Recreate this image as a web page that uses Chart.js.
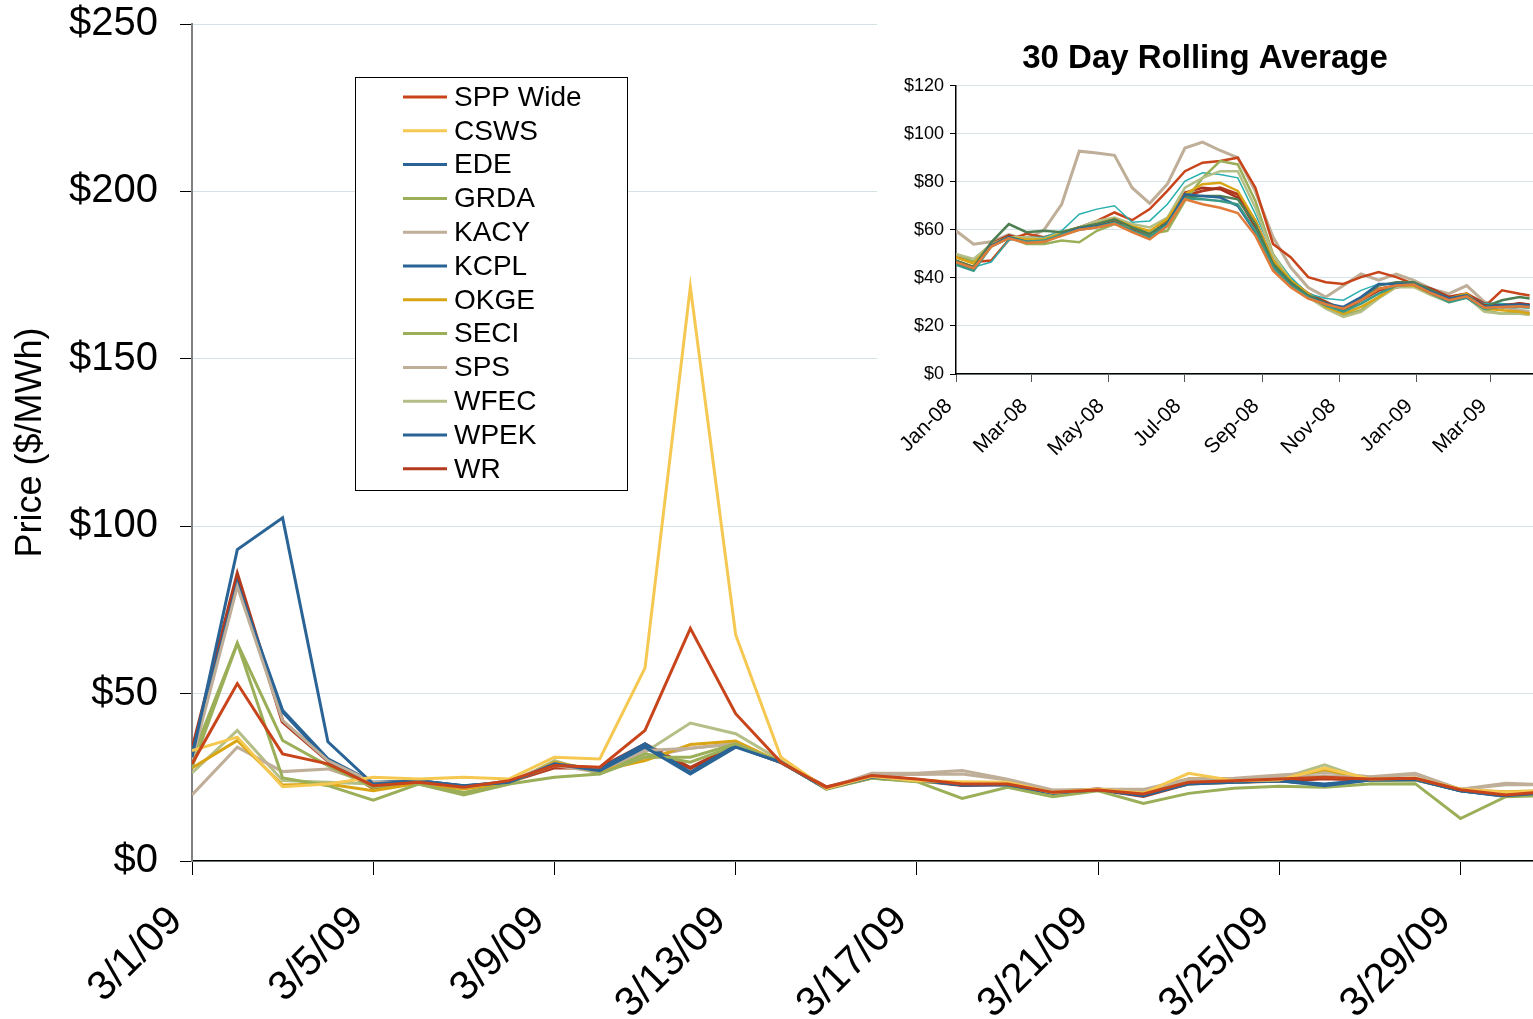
<!DOCTYPE html>
<html>
    <head>
        <title>SPP Daily Prices - March 2009</title>
        <script src="https://cdn.jsdelivr.net/npm/chart.js"></script>
        <style>
         body {
            margin: 0;
            background: white;
            overflow: hidden;
         }
         #wrap {
            position: relative;
            width: 1533px;
            height: 1019px;
         }
         #mainChart {
            position: absolute;
            left: 0;
            top: 0;
         }
         #rollChart {
            position: absolute;
            left: 877px;
            top: 0;
            background: white;
         }
        </style>
    </head>
    <body>
        <div id="wrap">
            <canvas id="mainChart" width="1533" height="1019"></canvas>
            <canvas id="rollChart" width="656" height="470"></canvas>
        </div>
        <script>
        // daily prices, March 2009 ($/MWh)
        const days = [
            "3/1/09", "3/2/09", "3/3/09", "3/4/09", "3/5/09", "3/6/09", "3/7/09", "3/8/09",
            "3/9/09", "3/10/09", "3/11/09", "3/12/09", "3/13/09", "3/14/09", "3/15/09", "3/16/09",
            "3/17/09", "3/18/09", "3/19/09", "3/20/09", "3/21/09", "3/22/09", "3/23/09", "3/24/09",
            "3/25/09", "3/26/09", "3/27/09", "3/28/09", "3/29/09", "3/30/09", "3/31/09"
        ];
        const xTickDays = [0, 4, 8, 12, 16, 20, 24, 28];
        const priceTicks = [0, 50, 100, 150, 200, 250];

        const sppWide = [29, 53, 32, 29, 22.5, 23.5, 22, 24, 28.5, 28, 39, 69.5, 44, 29.5, 22, 25.5, 24.5, 23, 23, 20.5, 21.2, 20, 23.5, 24, 24.5, 25, 24.5, 24.7, 21.3, 19.7, 20.8];
        const csws    = [33, 37, 22.2, 23, 25, 24.5, 25, 24.5, 31, 30.5, 57.7, 171.5, 67.6, 31, 21.6, 25.2, 24, 23.7, 23.5, 20.5, 21.4, 20.3, 26.2, 24, 24.2, 27.8, 24.5, 24.7, 21.5, 20.5, 21];
        const ede     = [31, 93, 102.5, 35.6, 23, 24, 22.5, 23.5, 29, 27, 34, 26, 34, 29.5, 21.6, 25, 24.2, 22.7, 22.8, 20.3, 21.3, 19.8, 23, 23.5, 24, 22.5, 24.2, 24.3, 21, 19.5, 20.5];
        const grda    = [28, 65, 24.8, 22.5, 18.2, 23, 19.7, 23, 25, 26, 31, 31, 35, 29.5, 21.6, 24.7, 23.7, 18.7, 22, 19.2, 21, 17.2, 20.2, 21.7, 22.3, 22, 23, 23.1, 12.7, 19.2, 19.5];
        const kacy    = [30, 82, 42, 30, 23.5, 23.5, 22, 24, 29, 27, 33, 33.7, 35, 29.5, 21.6, 25.8, 25.8, 26, 24.2, 20.8, 21.4, 21, 24.4, 24.5, 25.3, 25.5, 25, 25.8, 21.4, 22.8, 22.7];
        const kcpl    = [32, 83, 45, 30.5, 23.5, 24, 22.5, 23.5, 29, 27.5, 35, 26.5, 34.5, 29.5, 21.6, 25.2, 24.3, 22.8, 23, 20.3, 21.3, 19.6, 23.3, 23.6, 24, 23, 24.2, 24.4, 21, 19.4, 20.5];
        const okge    = [27.8, 36, 22.7, 23, 21, 23.2, 21.5, 23.5, 29.5, 27, 30, 34.8, 35.8, 29.5, 21.6, 25.3, 24.3, 23.3, 23, 20.5, 21.3, 20.2, 24.5, 24.3, 24.5, 27.3, 24.5, 24.7, 21.3, 20.7, 21];
        const seci    = [30.8, 65, 36, 28.5, 22, 23.3, 20.5, 23.2, 29.5, 26.5, 32, 29.5, 34.5, 29.5, 21.6, 24.8, 23.8, 23, 22.8, 20, 21.2, 20.5, 23, 23.5, 24, 27.5, 24, 24.2, 21, 19.5, 20];
        const sps     = [19.7, 34, 26.7, 27.5, 23, 23.5, 22.3, 23.8, 28.5, 26.5, 31, 33.7, 35, 29.5, 21.6, 26.2, 26.2, 27, 24.4, 21.2, 21.4, 21.4, 24.6, 24.7, 25.7, 26.5, 25.2, 26.2, 21.4, 23.2, 22.7];
        const wfec    = [26.3, 39, 24, 23.5, 23, 23, 20, 23, 30, 26, 32.5, 41.2, 38, 30, 21.4, 24.8, 24, 23.2, 22.8, 20.2, 21.2, 20.6, 23.2, 24, 24.5, 28.7, 24, 24.3, 21.2, 19.5, 20];
        const wpek    = [31.5, 82.5, 44.5, 30, 23.3, 24, 22.3, 23.6, 29, 27.3, 34.5, 26.2, 34.3, 29.5, 21.6, 25.1, 24.2, 22.7, 22.9, 20.2, 21.3, 19.5, 23.2, 23.6, 24, 22.8, 24.2, 24.4, 21, 19.3, 20.4];
        const wr      = [33, 85.5, 41.6, 30, 21.8, 23.5, 22, 23.7, 28, 27.8, 34.8, 27.8, 34.5, 29.5, 22, 25.4, 24.2, 22.7, 23, 20.2, 21.4, 19.4, 23.2, 23.7, 24, 24.7, 24.3, 24.5, 21.2, 19.6, 20.8];

        const seriesNames = ["SPP Wide", "CSWS", "EDE", "GRDA", "KACY", "KCPL", "OKGE", "SECI", "SPS", "WFEC", "WPEK", "WR"];
        const seriesValues = [sppWide, csws, ede, grda, kacy, kcpl, okge, seci, sps, wfec, wpek, wr];
        const seriesColors = [
            "#c8441a", "#f5c851", "#2a6496", "#9bae58",
            "#bfae98", "#2a6496", "#d9a514", "#9bae58",
            "#bfae98", "#b3bf86", "#2a6496", "#b23a1e"
        ];

        // 30 day rolling average, sampled every two weeks from 1/1/08
        const rollDays = [0, 14, 28, 42, 56, 70, 84, 98, 112, 126, 140, 154, 168, 182, 196, 210, 224, 238, 252, 266, 280, 294, 308, 322, 336, 350, 364, 378, 392, 406, 420, 434, 448, 456];
        const monthTicks = [0, 60, 121, 182, 244, 305, 366, 425];
        const monthLabels = ["Jan-08", "Mar-08", "May-08", "Jul-08", "Sep-08", "Nov-08", "Jan-09", "Mar-09"];
        const rollTicks = [0, 20, 40, 60, 80, 100, 120];

        const rollOrange    = [46.5, 44, 53, 56.5, 54.5, 55, 57.5, 60, 61, 62.5, 59, 56, 61.5, 72.7, 70.6, 69.2, 67, 57.6, 43, 36.1, 31.4, 29, 27.2, 30.7, 35.4, 36.8, 37.2, 33.6, 30.7, 32.3, 27.6, 27.9, 28.2, 27.9];
        const rollTealGreen = [45.5, 43, 53, 56.5, 55, 55.5, 58, 60, 61, 63, 59.5, 57, 62, 73, 72.7, 72, 70.6, 59.6, 44.4, 36.8, 32, 28.6, 25.9, 29.3, 33.4, 36.8, 37.2, 33.4, 29.9, 31.7, 27.2, 27.9, 27.9, 27.6];
        const rollBlue      = [46, 43.5, 53.5, 57, 55, 55, 58, 60.5, 61.5, 63, 59.5, 56.5, 62.5, 74.8, 74.1, 73.4, 70, 59, 44.4, 36.8, 32, 29.3, 27.9, 32, 37.5, 37.5, 37.5, 34.1, 31.4, 32.7, 27.9, 28.6, 28.9, 28.6];
        const rollDkGreen   = [47.2, 44.4, 54.8, 62.4, 59, 59.6, 59, 61, 62.4, 64.4, 61, 58.3, 63, 73.4, 74.1, 74.1, 72.7, 62.4, 45.9, 38.2, 32.7, 29.6, 27.2, 30.7, 36.8, 38.2, 38.2, 34.8, 31.4, 32.7, 27.9, 30.7, 32, 31.4];
        const rollGold      = [48.5, 46, 53.8, 57, 56, 56, 58.5, 60.5, 62.5, 64.5, 61.5, 59.5, 64.5, 74.8, 79, 79.6, 76.2, 63.7, 47.2, 39, 33.4, 27.9, 25.1, 27.9, 32, 36.8, 36.8, 33.4, 31.4, 33.4, 27.2, 26.5, 25.9, 25.1];
        const rollLtOlive   = [50, 47.9, 54.1, 56.9, 56.9, 56.2, 59, 61, 63.7, 65.1, 62.4, 61, 65.1, 77.5, 81.6, 84.4, 84.4, 69.2, 49.3, 39, 32, 27.2, 23.8, 25.9, 31.4, 36.1, 36.1, 32.7, 29.9, 32, 25.9, 25.1, 25.1, 24.5];
        const rollOlive     = [50, 46.6, 53.4, 56.9, 54.1, 54.1, 55.5, 54.8, 59.6, 62.4, 61, 58.3, 59.6, 72, 81.6, 88.6, 87.2, 72, 50, 39, 32, 27.9, 24.5, 26.5, 32, 36.8, 36.8, 33.4, 30.7, 32, 26.5, 25.1, 25.9, 25.1];
        const rollDkRed     = [47, 44.5, 54, 57.5, 55.5, 55.8, 58.5, 61, 62, 64, 60.5, 57.8, 63.5, 75.5, 77.5, 76.9, 73.4, 61, 45.9, 37.5, 32.7, 29.6, 26.5, 30.7, 35.4, 36.8, 37.5, 34.8, 31.7, 33.1, 28.6, 28.6, 29.3, 28.9];
        const rollTeal      = [47.2, 44.4, 46.6, 55.8, 56.9, 56.9, 59.6, 66.5, 68.6, 70, 63.1, 63.7, 70.6, 80.3, 83.7, 83, 81.6, 66.5, 50, 40.3, 33.4, 31.4, 30.7, 34.8, 37.5, 37.5, 37.5, 33.4, 30.7, 32.7, 29.3, 29.3, 28.6, 27.9];
        const rollWr        = [46.6, 43.9, 54.1, 57.6, 55.5, 55.5, 58.3, 61, 61.8, 63.7, 60.3, 57.6, 63.7, 74.1, 76.2, 77.5, 74.8, 63.7, 47.2, 39, 33.4, 30, 26.5, 30.7, 34.8, 36.1, 37.5, 35.4, 32, 33.4, 29.3, 27.9, 29.3, 28.6];
        const rollSpp       = [48.6, 46.6, 47.2, 55.8, 58.3, 56.9, 59, 61, 63.7, 67.2, 64, 68.6, 76.2, 84.4, 87.9, 88.6, 90, 77.5, 54.1, 48.6, 40.3, 38.2, 37.5, 40.3, 42.4, 40.3, 37.5, 34.8, 32, 33.4, 27.9, 34.8, 33.4, 32.7];
        const rollTan       = [59.6, 54, 55, 58, 56, 60, 70.6, 92.7, 92, 91, 77.5, 71, 79, 94, 96.5, 93, 90, 76, 57, 44.4, 36, 32, 36.8, 41.6, 39, 41.6, 39, 35.4, 33.4, 36.8, 30, 27.9, 26.5, 26];

        const rollValues = [rollOrange, rollTealGreen, rollBlue, rollDkGreen, rollGold, rollLtOlive, rollOlive, rollDkRed, rollTeal, rollWr, rollSpp, rollTan];
        const rollColors = ["#e07b39", "#3a9a8a", "#2a6496", "#4e7f52", "#d9a514", "#b3bf86", "#9bae58", "#a8321c", "#2aafaf", "#b23a1e", "#c8441a", "#bfae98"];
        const rollWidths = [2.5, 2.5, 2.5, 2.5, 2.5, 2.5, 2.5, 2.5, 1.5, 3, 2.5, 3];

        const FONT = '"Liberation Sans", Arial, sans-serif';
        const gridColor = "#d5e3e6";

        const boxLegend = {
            id: 'boxLegend',
            afterDraw(chart) {
                const ctx = chart.ctx;
                ctx.save();
                ctx.fillStyle = '#fff';
                ctx.fillRect(355, 77, 272, 413);
                ctx.strokeStyle = '#000';
                ctx.lineWidth = 1;
                ctx.strokeRect(355.5, 77.5, 272, 413);
                ctx.font = '28px ' + FONT;
                ctx.textBaseline = 'middle';
                chart.data.datasets.forEach((ds, i) => {
                    const y = 97 + i * 33.8;
                    ctx.strokeStyle = ds.borderColor;
                    ctx.lineWidth = 3;
                    ctx.beginPath();
                    ctx.moveTo(403, y);
                    ctx.lineTo(447, y);
                    ctx.stroke();
                    ctx.fillStyle = '#000';
                    ctx.fillText(ds.label, 454, y + 1);
                });
                ctx.restore();
            }
        };

        new Chart(document.getElementById('mainChart').getContext('2d'), {
            type: 'line',
            data: {
                datasets: seriesNames.map((name, k) => ({
                    label: name,
                    data: seriesValues[k].map((v, i) => ({x: i, y: v})),
                    borderColor: seriesColors[k],
                    backgroundColor: seriesColors[k],
                    borderWidth: name === "WR" ? 4 : 3,
                    pointRadius: 0,
                    tension: 0
                }))
            },
            options: {
                responsive: false,
                animation: false,
                layout: { padding: { top: 24, right: 0, left: 0, bottom: 0 } },
                plugins: { legend: { display: false }, tooltip: { enabled: false } },
                scales: {
                    x: {
                        type: 'linear',
                        min: 0,
                        max: 29.6,
                        afterBuildTicks: (scale) => { scale.ticks = xTickDays.map(v => ({value: v})); },
                        afterFit: (scale) => { scale.height = 158; },
                        grid: { drawOnChartArea: false, tickLength: 14, tickColor: '#000' },
                        border: { color: '#000', width: 1.5 },
                        ticks: {
                            autoSkip: false,
                            maxRotation: 45,
                            minRotation: 45,
                            padding: 22,
                            labelOffset: -16,
                            color: '#000',
                            font: { family: FONT, size: 41 },
                            callback: (v) => days[v]
                        }
                    },
                    y: {
                        min: 0,
                        max: 250,
                        afterBuildTicks: (scale) => { scale.ticks = priceTicks.map(v => ({value: v})); },
                        afterFit: (scale) => {
                            scale.width = 192;
                            scale.paddingTop = 0;
                            scale.paddingBottom = 0;
                        },
                        grid: { color: gridColor, tickLength: 12, tickColor: '#000', lineWidth: 1 },
                        border: { color: '#808080', width: 2 },
                        ticks: {
                            padding: 22,
                            color: '#000',
                            font: { family: FONT, size: 40 },
                            callback: (v) => '$' + v
                        },
                        title: {
                            display: true,
                            text: 'Price ($/MWh)',
                            color: '#000',
                            font: { family: FONT, size: 36 },
                            padding: { top: 9, bottom: 0 }
                        }
                    }
                }
            },
            plugins: [boxLegend]
        });

        new Chart(document.getElementById('rollChart').getContext('2d'), {
            type: 'line',
            data: {
                datasets: rollValues.map((vals, k) => ({
                    data: vals.map((v, i) => ({x: rollDays[i], y: v})),
                    borderColor: rollColors[k],
                    borderWidth: rollWidths[k],
                    pointRadius: 0,
                    tension: 0
                }))
            },
            options: {
                responsive: false,
                animation: false,
                layout: { padding: 0 },
                plugins: {
                    legend: { display: false },
                    tooltip: { enabled: false },
                    title: {
                        display: true,
                        text: '30 Day Rolling Average',
                        color: '#000',
                        font: { family: FONT, size: 33, weight: 'bold' },
                        padding: { top: 39, bottom: 7 }
                    }
                },
                scales: {
                    x: {
                        type: 'linear',
                        min: 0,
                        max: 458.7,
                        afterBuildTicks: (scale) => { scale.ticks = monthTicks.map(v => ({value: v})); },
                        afterFit: (scale) => { scale.height = 96; },
                        grid: { drawOnChartArea: false, tickLength: 8, tickColor: '#555' },
                        border: { color: '#000', width: 1.5 },
                        ticks: {
                            autoSkip: false,
                            maxRotation: 45,
                            minRotation: 45,
                            padding: 12,
                            labelOffset: -7,
                            color: '#000',
                            font: { family: FONT, size: 21 },
                            callback: (v) => monthLabels[monthTicks.indexOf(v)]
                        }
                    },
                    y: {
                        min: 0,
                        max: 120,
                        afterBuildTicks: (scale) => { scale.ticks = rollTicks.map(v => ({value: v})); },
                        afterFit: (scale) => { scale.width = 79; },
                        grid: { color: gridColor, tickLength: 6, tickColor: '#000' },
                        border: { color: '#000', width: 1.5 },
                        ticks: {
                            padding: 6,
                            color: '#000',
                            font: { family: FONT, size: 18 },
                            callback: (v) => '$' + v
                        }
                    }
                }
            }
        });
        </script>
    </body>
</html>
